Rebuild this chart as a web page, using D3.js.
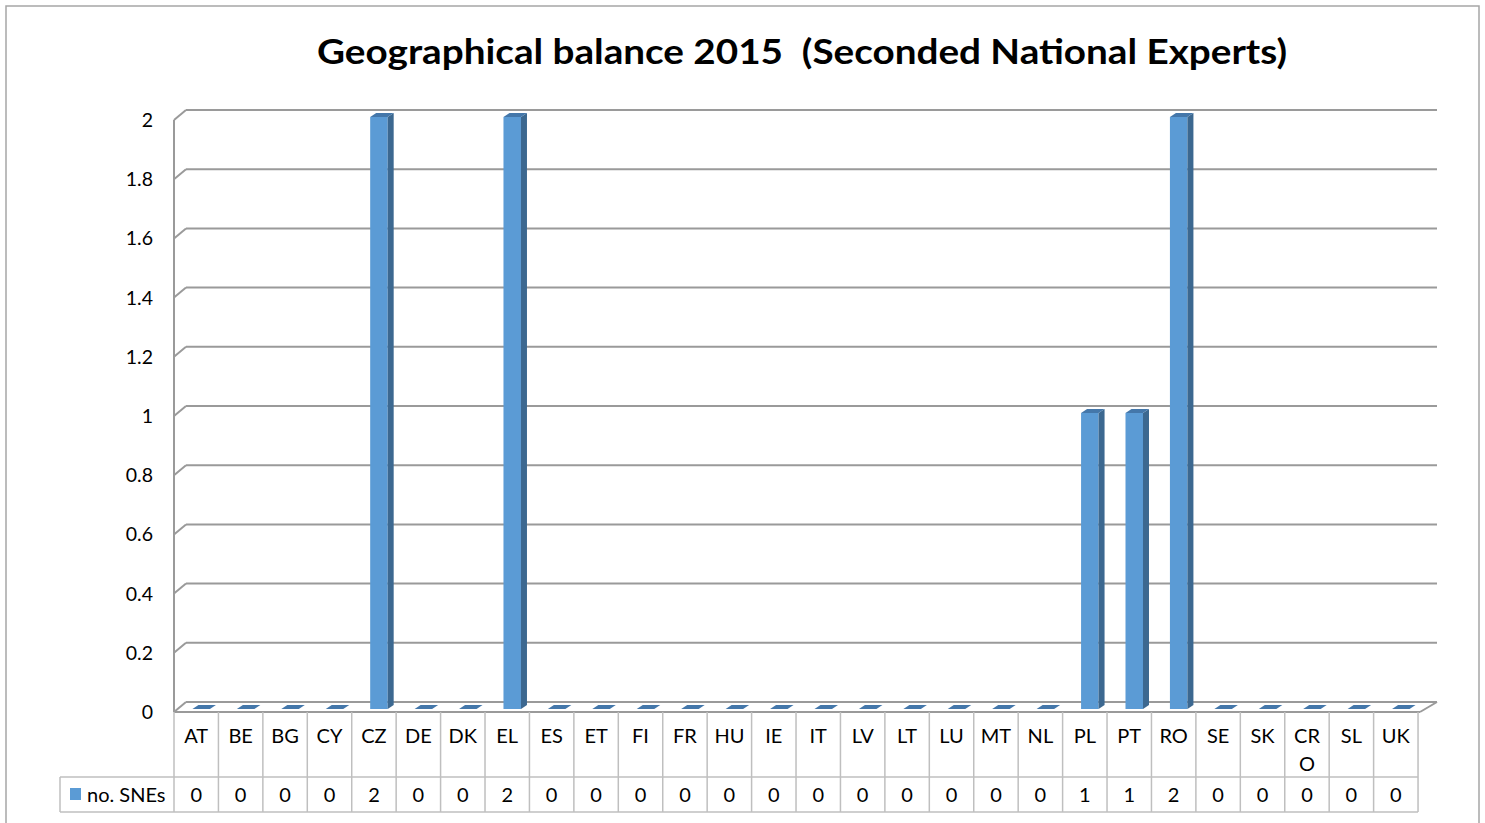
<!DOCTYPE html>
<html>
<head>
<meta charset="utf-8">
<script src="https://cdn.jsdelivr.net/npm/d3@7"></script>
<style>
  body { margin: 0; background: #fff; }
  svg { display: block; font-family: Lato, "Open Sans", sans-serif; }
  text { white-space: pre; }
</style>
</head>
<body>
<svg width="1485" height="823"></svg>
<script>
const categories = ["AT","BE","BG","CY","CZ","DE","DK","EL","ES","ET","FI","FR","HU","IE","IT","LV","LT","LU","MT","NL","PL","PT","RO","SE","SK","CRO","SL","UK"];
const snes = [0,0,0,0,2,0,0,2,0,0,0,0,0,0,0,0,0,0,0,0,1,1,2,0,0,0,0,0];
const yTicks = [0,0.2,0.4,0.6,0.8,1,1.2,1.4,1.6,1.8,2];
const seriesName = "no. SNEs";
const title = "Geographical balance 2015  (Seconded National Experts)";

const svg = d3.select("svg");

// outer frame
svg.append("rect")
  .attr("x", 6).attr("y", 6).attr("width", 1473).attr("height", 830)
  .attr("fill", "none").attr("stroke", "#a6a6a6").attr("stroke-width", 1.5);

svg.append("text")
  .attr("x", 802).attr("y", 64)
  .attr("text-anchor", "middle")
  .attr("font-size", 35).attr("font-weight", "bold")
  .attr("textLength", 970).attr("lengthAdjust", "spacingAndGlyphs")
  .text(title);

const left = 174, colW = 44.43;
const x = d3.scaleBand().domain(categories).range([left, left + colW * categories.length]);
const y = d3.scaleLinear().domain([0, 2]).range([712, 120]);
const dx = 12, dy = -10;          // depth of the 3D box
const backRight = 1437, frontRight = 1420;
const gc = "#9a9a9a";

const grid = svg.append("g");
// back wall gridlines + left wall diagonals
yTicks.forEach(t => {
  grid.append("line")
    .attr("x1", left + dx).attr("x2", backRight)
    .attr("y1", y(t) + dy).attr("y2", y(t) + dy)
    .attr("stroke", gc).attr("stroke-width", 2);
  grid.append("line")
    .attr("x1", left).attr("x2", left + dx)
    .attr("y1", y(t)).attr("y2", y(t) + dy)
    .attr("stroke", gc).attr("stroke-width", 2);
});
// left wall front vertical
grid.append("line")
  .attr("x1", left).attr("x2", left).attr("y1", y(2)).attr("y2", y(0))
  .attr("stroke", gc).attr("stroke-width", 2);
// floor front edge + right slant
grid.append("line")
  .attr("x1", left).attr("x2", frontRight).attr("y1", y(0)).attr("y2", y(0))
  .attr("stroke", gc).attr("stroke-width", 2);
grid.append("line")
  .attr("x1", frontRight).attr("x2", backRight).attr("y1", y(0)).attr("y2", y(0) + dy)
  .attr("stroke", gc).attr("stroke-width", 2);

// y labels
svg.append("g").selectAll("text").data(yTicks).join("text")
  .attr("x", 153).attr("y", d => y(d) + 7)
  .attr("text-anchor", "end").attr("font-size", 19.5).attr("fill", "#000")
  .text(d => d3.format("~g")(d));

// bars
const f = 0.3;                    // bar front sits 30% into the depth
const bw = 17.5, bdx = 6, bdy = -4;
const bars = svg.append("g");
categories.forEach((c, i) => {
  const x0 = x(c) + x.bandwidth() / 2 + 5 - bw / 2 + dx * f - 3.6;
  const yb = y(0) + dy * f;
  const yt = y(snes[i]) + dy * f;
  const h = yb - yt;
  if (h > 0) {
    bars.append("rect").attr("x", x0).attr("y", yt).attr("width", bw).attr("height", h)
      .attr("fill", "#5b9bd5");
    bars.append("path")
      .attr("d", `M${x0 + bw},${yt} L${x0 + bw + bdx},${yt + bdy} L${x0 + bw + bdx},${yb + bdy} L${x0 + bw},${yb} Z`)
      .attr("fill", "#3c6890");
  }
  bars.append("path")
    .attr("d", `M${x0},${yt} L${x0 + bdx},${yt + bdy} L${x0 + bw + bdx},${yt + bdy} L${x0 + bw},${yt} Z`)
    .attr("fill", "#4477aa");
});

// data table
const table = svg.append("g");
const tTop = 712, tMid = 777, tBot = 812;
const tRight = left + colW * categories.length;
const tc = "#bfbfbf";
categories.forEach(c => {
  table.append("line").attr("x1", x(c) + colW).attr("x2", x(c) + colW)
    .attr("y1", tTop).attr("y2", tBot).attr("stroke", tc).attr("stroke-width", 1.5);
});
table.append("line").attr("x1", left).attr("x2", left).attr("y1", tTop).attr("y2", tBot)
  .attr("stroke", tc).attr("stroke-width", 1.5);
table.append("line").attr("x1", 60).attr("x2", tRight).attr("y1", tMid).attr("y2", tMid)
  .attr("stroke", tc).attr("stroke-width", 1.5);
table.append("line").attr("x1", 60).attr("x2", tRight).attr("y1", tBot).attr("y2", tBot)
  .attr("stroke", tc).attr("stroke-width", 1.5);
table.append("line").attr("x1", 60).attr("x2", 60).attr("y1", tMid).attr("y2", tBot)
  .attr("stroke", tc).attr("stroke-width", 1.5);

categories.forEach((c, i) => {
  const cx = x(c) + colW / 2;
  const lines = c.length > 2 ? [c.slice(0, 2), c.slice(2)] : [c];
  lines.forEach((l, j) => {
    table.append("text").attr("x", cx).attr("y", 743 + j * 28)
      .attr("text-anchor", "middle").attr("font-size", 20).text(l);
  });
  table.append("text").attr("x", cx).attr("y", 802)
    .attr("text-anchor", "middle").attr("font-size", 20).text(snes[i]);
});

table.append("rect").attr("x", 70).attr("y", 788).attr("width", 11).attr("height", 12)
  .attr("fill", "#5b9bd5");
table.append("text").attr("x", 87).attr("y", 802).attr("font-size", 20).text(seriesName);
</script>
</body>
</html>
